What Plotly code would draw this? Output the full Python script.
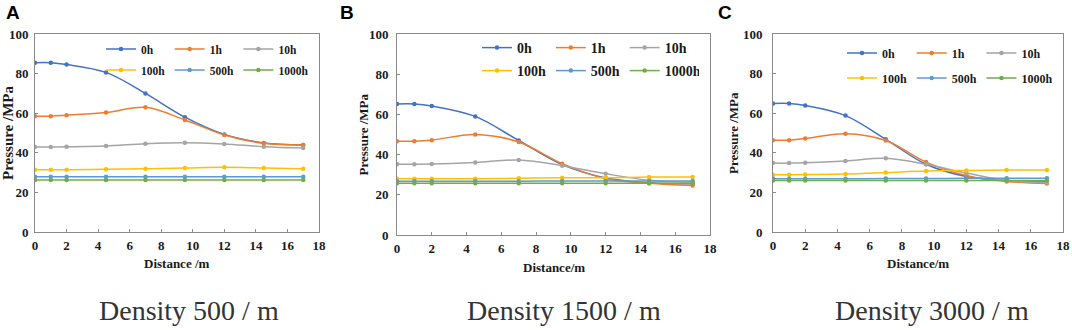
import plotly.graph_objects as go

# ---------------- data ----------------
distance = [0, 1, 2, 4.5, 7, 9.5, 12, 14.5, 17]
series_names = ["0h", "1h", "10h", "100h", "500h", "1000h"]
colors = ["#4472C4", "#ED7D31", "#A5A5A5", "#FFC000", "#5B9BD5", "#70AD47"]

# Density 500 / m
a_0h = [85.5, 85.5, 84.6, 80.6, 70.0, 58.0, 49.3, 45.0, 44.0]
a_1h = [58.4, 58.5, 59.0, 60.3, 63.0, 56.6, 49.0, 44.8, 44.0]
a_10h = [42.9, 42.9, 43.0, 43.4, 44.6, 45.1, 44.5, 43.1, 42.4]
a_100h = [31.5, 31.5, 31.5, 31.7, 31.9, 32.3, 32.7, 32.3, 31.9]
a_500h = [27.9, 27.9, 27.9, 27.9, 27.9, 27.9, 27.9, 27.9, 27.9]
a_1000h = [26.2, 26.2, 26.2, 26.2, 26.2, 26.2, 26.2, 26.2, 26.2]

# Density 1500 / m
b_0h = [65.2, 65.2, 64.2, 59.0, 47.0, 35.0, 28.4, 26.0, 25.5]
b_1h = [46.7, 46.7, 47.2, 50.0, 46.3, 35.5, 28.0, 25.8, 24.6]
b_10h = [35.2, 35.2, 35.3, 36.1, 37.3, 34.5, 30.5, 27.2, 26.2]
b_100h = [28.0, 28.0, 28.0, 28.0, 28.2, 28.5, 28.5, 28.8, 28.8]
b_500h = [26.8, 26.8, 26.8, 26.8, 26.8, 26.9, 26.9, 26.9, 26.9]
b_1000h = [25.7, 25.7, 25.7, 25.7, 25.7, 25.7, 25.7, 25.7, 25.7]

# Density 3000 / m
c_0h = [64.9, 64.9, 63.9, 58.8, 46.8, 34.2, 28.0, 26.0, 25.5]
c_1h = [46.4, 46.4, 47.2, 49.6, 46.2, 35.3, 28.5, 25.5, 24.5]
c_10h = [34.8, 34.8, 35.0, 35.9, 37.2, 34.2, 29.8, 26.0, 25.0]
c_100h = [28.9, 28.9, 29.0, 29.3, 30.0, 30.8, 31.1, 31.3, 31.3]
c_500h = [26.9, 26.9, 26.9, 26.9, 27.0, 27.0, 27.1, 27.2, 27.2]
c_1000h = [26.0, 26.0, 26.0, 26.0, 26.0, 26.0, 26.0, 26.0, 26.0]

x_ticks = [0, 2, 4, 6, 8, 10, 12, 14, 16, 18]
y_ticks = [0, 20, 40, 60, 80, 100]
panel_letters = ["A", "B", "C"]
captions = ["Density 500 / m", "Density 1500 / m", "Density 3000 / m"]
x_titles = ["Distance /m", "Distance/m", "Distance/m"]
y_title = "Pressure /MPa"

panels = [
    [a_0h, a_1h, a_10h, a_100h, a_500h, a_1000h],
    [b_0h, b_1h, b_10h, b_100h, b_500h, b_1000h],
    [c_0h, c_1h, c_10h, c_100h, c_500h, c_1000h],
]

# ---------------- layout geometry (pixels) ----------------
W, H = 1072, 330
plot_boxes = [  # left, right, top, bottom
    (35, 319, 34, 232),
    (397, 710, 34, 235),
    (773, 1063, 34, 232),
]
legend_font = [11.5, 14, 12]
legend_x = [101, 477, 842]
legend_rows = [(49, 70), (48, 71), (53, 78)]
ytitle_font = [15, 13, 13]
ytitle_x = [8, 363, 733]
xtitle_y = [263, 267, 263]
caption_x = [189, 564, 932]
letter_x = [13, 347, 725]

SERIF = "Liberation Serif"
fig = go.Figure()

def px2fx(p):
    return p / W

def px2fy(p):
    return 1 - p / H

for pi, data in enumerate(panels):
    l, r, t, b = plot_boxes[pi]
    xa = "x" if pi == 0 else f"x{pi+1}"
    ya = "y" if pi == 0 else f"y{pi+1}"
    leg1 = "legend" if pi == 0 else f"legend{2*pi+1}"
    leg2 = f"legend{2*pi+2}"
    for si, vals in enumerate(data):
        fig.add_trace(go.Scatter(
            x=distance, y=vals, name=series_names[si],
            mode="lines+markers",
            line=dict(color=colors[si], width=1.5, shape="spline", smoothing=1.0),
            marker=dict(color=colors[si], size=4.5, symbol="circle"),
            xaxis=xa, yaxis=ya,
            legend=leg1 if si < 3 else leg2,
        ))
    axis_common = dict(
        showline=True, mirror=True, linecolor="#8a8a8a", linewidth=1,
        showgrid=False, zeroline=False, ticks="inside", ticklen=3,
        tickcolor="#8a8a8a", automargin=False,
        tickfont=dict(family=SERIF, size=13, color="#1a1a1a", weight="bold"),
    )
    xkey = "xaxis" if pi == 0 else f"xaxis{pi+1}"
    ykey = "yaxis" if pi == 0 else f"yaxis{pi+1}"
    fig.update_layout(**{
        xkey: dict(domain=[px2fx(l), px2fx(r)], range=[0, 18], tickvals=x_ticks,
                   anchor=ya, ticklabelstandoff=1, **axis_common),
        ykey: dict(domain=[px2fy(b), px2fy(t)], range=[0, 100], tickvals=y_ticks,
                   anchor=xa, ticklabelstandoff=3 + 2 * pi, **axis_common),
    })
    tw = legend_font[pi] * 2.06  # width of "100h"
    for ri, lk in enumerate([leg1, leg2]):
        fig.update_layout(**{lk: dict(
            orientation="h", x=px2fx(legend_x[pi]), xanchor="left",
            y=px2fy(legend_rows[pi][ri]), yanchor="middle",
            bgcolor="rgba(0,0,0,0)", borderwidth=0,
            font=dict(family=SERIF, size=legend_font[pi], color="#1a1a1a", weight="bold"),
            entrywidth=tw, entrywidthmode="pixels",
            itemwidth=30, tracegroupgap=0,
        )})
    # axis titles, caption, panel letter
    fig.add_annotation(text=y_title, x=px2fx(ytitle_x[pi]), y=px2fy((t + b) / 2),
                       xref="paper", yref="paper", showarrow=False, textangle=-90,
                       font=dict(family=SERIF, size=ytitle_font[pi], color="#1a1a1a", weight="bold"),
                       xanchor="center", yanchor="middle")
    fig.add_annotation(text=x_titles[pi], x=px2fx((l + r) / 2), y=px2fy(xtitle_y[pi]),
                       xref="paper", yref="paper", showarrow=False,
                       font=dict(family=SERIF, size=13, color="#1a1a1a", weight="bold"),
                       xanchor="center", yanchor="middle")
    fig.add_annotation(text=captions[pi], x=px2fx(caption_x[pi]), y=px2fy(310),
                       xref="paper", yref="paper", showarrow=False,
                       font=dict(family=SERIF, size=28, color="#333333"),
                       xanchor="center", yanchor="middle")
    fig.add_annotation(text=panel_letters[pi], x=px2fx(letter_x[pi]), y=px2fy(12),
                       xref="paper", yref="paper", showarrow=False,
                       font=dict(family="Liberation Sans", size=19, color="#000000", weight="bold"),
                       xanchor="center", yanchor="middle")

fig.update_layout(
    width=W, height=H, margin=dict(l=0, r=0, t=0, b=0),
    paper_bgcolor="white", plot_bgcolor="white",
)

fig.write_html("out.html", config={"displayModeBar": False},
               post_script="document.body.style.margin='0px';document.body.style.overflow='hidden';")
